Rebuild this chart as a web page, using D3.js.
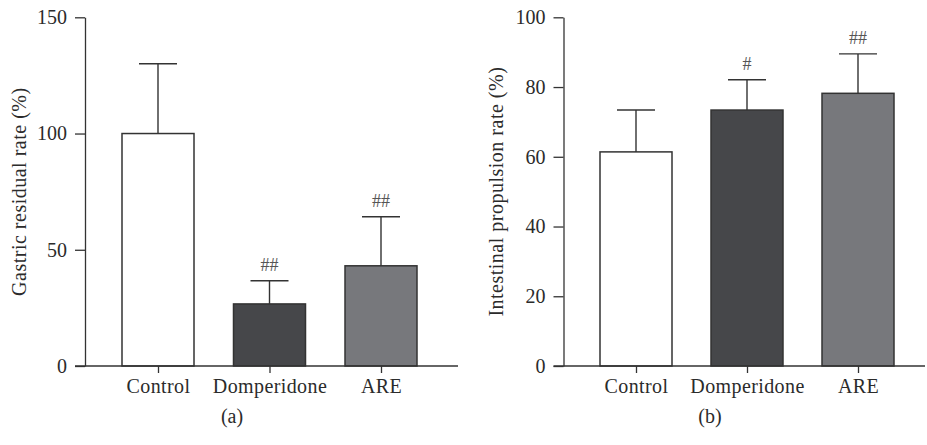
<!DOCTYPE html>
<html>
<head>
<meta charset="utf-8">
<script src="https://cdn.jsdelivr.net/npm/d3@7"></script>
<style>
    body { margin: 0; background: #fff; }
    text { font-family: "Liberation Serif", "Times New Roman", serif; fill: #2b2b2b; }
    .axis path, .axis line { stroke: #333; stroke-width: 1.3; }
</style>
</head>
<body>
<div id="vis"></div>
<script>

// data
let categories = ['Control', 'Domperidone', 'ARE'];

let gastricMean = [100, 26.7, 43.1];
let gastricSD = [30, 10, 21.1];
let gastricSig = ['', '##', '##'];
let gastricTicks = [0, 50, 100, 150];

let intestinalMean = [61.4, 73.4, 78.2];
let intestinalSD = [12.0, 8.7, 11.3];
let intestinalSig = ['', '#', '##'];
let intestinalTicks = [0, 20, 40, 60, 80, 100];

let barColors = ['#ffffff', '#46474a', '#77787c'];

let width = 927,
    height = 445;

let svg = d3.select('#vis')
    .append('svg')
    .attr('width', width)
    .attr('height', height);

let panels = [
    {mean: gastricMean, sd: gastricSD, sig: gastricSig, ticks: gastricTicks, max: 150,
     axisX: 85, xEnd: 458, first: 158, last: 381, label: 'Gastric residual rate (%)', labelX: 26,
     tag: '(a)', tagX: 232},
    {mean: intestinalMean, sd: intestinalSD, sig: intestinalSig, ticks: intestinalTicks, max: 100,
     axisX: 563.5, xEnd: 925, first: 636, last: 858, label: 'Intestinal propulsion rate (%)', labelX: 503,
     tag: '(b)', tagX: 710}
];

let plotTop = 17.3,
    plotBottom = 366,
    barWidth = 72,
    capHalf = 19;

panels.forEach(function(p) {
    let g = svg.append('g');

    let yScale = d3.scaleLinear()
        .domain([0, p.max])
        .range([plotBottom, plotTop]);

    let xScale = d3.scalePoint()
        .domain(categories)
        .range([p.first, p.last]);

    let rows = categories.map(function(c, i) {
        return {cat: c, mean: p.mean[i], sd: p.sd[i], sig: p.sig[i], color: barColors[i]};
    });

    // bars
    g.selectAll('rect.bar')
        .data(rows)
        .enter()
        .append('rect')
        .attr('class', 'bar')
        .attr('x', d => xScale(d.cat) - barWidth / 2)
        .attr('y', d => yScale(d.mean))
        .attr('width', barWidth)
        .attr('height', d => plotBottom - yScale(d.mean))
        .attr('fill', d => d.color)
        .attr('stroke', '#333')
        .attr('stroke-width', 1.5);

    // error bars (upper only)
    g.selectAll('line.err')
        .data(rows)
        .enter()
        .append('line')
        .attr('class', 'err')
        .attr('x1', d => xScale(d.cat))
        .attr('x2', d => xScale(d.cat))
        .attr('y1', d => yScale(d.mean))
        .attr('y2', d => yScale(d.mean + d.sd))
        .attr('stroke', '#333')
        .attr('stroke-width', 1.4);

    g.selectAll('line.cap')
        .data(rows)
        .enter()
        .append('line')
        .attr('class', 'cap')
        .attr('x1', d => xScale(d.cat) - capHalf)
        .attr('x2', d => xScale(d.cat) + capHalf)
        .attr('y1', d => yScale(d.mean + d.sd))
        .attr('y2', d => yScale(d.mean + d.sd))
        .attr('stroke', '#333')
        .attr('stroke-width', 1.4);

    // significance marks
    g.selectAll('text.sig')
        .data(rows)
        .enter()
        .append('text')
        .attr('class', 'sig')
        .attr('x', d => xScale(d.cat))
        .attr('y', d => yScale(d.mean + d.sd) - 10)
        .attr('text-anchor', 'middle')
        .style('font-size', '18px')
        .style('fill', '#555')
        .text(d => d.sig);

    // y axis
    let yAxis = d3.axisLeft(yScale)
        .tickValues(p.ticks)
        .tickSize(10)
        .tickPadding(8)
        .tickSizeOuter(0);

    let yGuide = g.append('g')
        .attr('class', 'axis')
        .attr('transform', 'translate(' + p.axisX + ',0)')
        .call(yAxis);
    yGuide.selectAll('text')
        .style('font-size', '20px')
        .style('fill', '#2b2b2b');

    // x axis line
    g.append('line')
        .attr('x1', p.axisX - 10)
        .attr('x2', p.xEnd)
        .attr('y1', plotBottom)
        .attr('y2', plotBottom)
        .attr('stroke', '#333')
        .attr('stroke-width', 1.3);

    let xAxis = d3.axisBottom(xScale)
        .tickSize(7)
        .tickPadding(6)
        .tickSizeOuter(0);

    let xGuide = g.append('g')
        .attr('class', 'axis')
        .attr('transform', 'translate(0,' + plotBottom + ')')
        .call(xAxis);
    xGuide.select('.domain').remove();
    xGuide.selectAll('text')
        .style('font-size', '20px')
        .style('letter-spacing', '0.4px')
        .style('fill', '#2b2b2b');

    // y label
    g.append('text')
        .attr('transform', 'translate(' + p.labelX + ',' + ((plotTop + plotBottom) / 2) + ') rotate(-90)')
        .attr('text-anchor', 'middle')
        .style('font-size', '20px')
        .style('letter-spacing', '0.5px')
        .text(p.label);

    // panel tag
    g.append('text')
        .attr('x', p.tagX)
        .attr('y', 423)
        .attr('text-anchor', 'middle')
        .style('font-size', '20px')
        .text(p.tag);
});

</script>
</body>
</html>
